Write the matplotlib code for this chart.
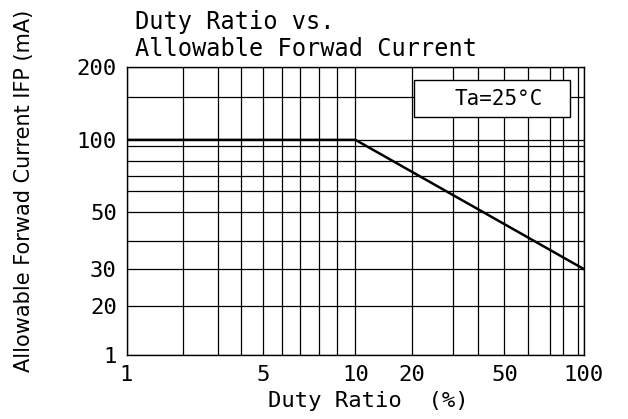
import matplotlib
matplotlib.use("Agg")
import matplotlib.pyplot as plt
import numpy as np
from matplotlib.patches import Rectangle

# --- data: derating curve ---
duty_ratio = [1, 10, 100]          # %
forward_current = [100, 100, 30]   # mA

x_ticks = [1, 5, 10, 20, 50, 100]
x_tick_labels = ["1", "5", "10", "20", "50", "100"]
y_ticks = [1, 20, 30, 50, 100, 200]
y_tick_labels = ["1", "20", "30", "50", "100", "200"]

x_grid = [2, 3, 4, 5, 6, 7, 8, 9, 10, 20, 30, 40, 50, 60, 70, 80, 90]
y_grid = [20, 30, 40, 50, 60, 70, 80, 90, 100, 150]

# The printed graph paper is not a true log grid, so the scale is
# calibrated on its rulings (fraction of the axis length).
x_rule_vals = [1, 2, 3, 4, 5, 6, 7, 8, 9, 10, 20, 30, 40, 50, 60, 70, 80, 90, 100]
x_rule_frac = [0, 0.124, 0.200, 0.250, 0.299, 0.340, 0.380, 0.421, 0.461, 0.501,
               0.625, 0.714, 0.770, 0.827, 0.878, 0.927, 0.956, 0.987, 1]
y_rule_vals = [1, 20, 30, 40, 50, 60, 70, 80, 90, 100, 150, 200]
y_rule_frac = [0, 0.170, 0.299, 0.396, 0.497, 0.569, 0.622, 0.674, 0.726, 0.747,
               0.896, 1]


def paper_scale(vals, frac):
    vals = np.asarray(vals, float)
    frac = np.asarray(frac, float)

    def fwd(v):
        return np.interp(v, vals, frac)

    def inv(f):
        return np.interp(f, frac, vals)

    return fwd, inv


plt.rcParams['font.family'] = ['DejaVu Sans Mono', 'DejaVu Sans']

fig = plt.figure(figsize=(6.28, 4.19), dpi=100)
ax = fig.add_axes([126.5 / 628, 1 - 355 / 419, 457 / 628, 288 / 419])

ax.set_xscale('function', functions=paper_scale(x_rule_vals, x_rule_frac))
ax.set_yscale('function', functions=paper_scale(y_rule_vals, y_rule_frac))
ax.set_xlim(1, 100)
ax.set_ylim(1, 200)

ax.set_xticks(x_ticks, x_tick_labels)
ax.set_yticks(y_ticks, y_tick_labels)
ax.set_xticks(x_grid, minor=True)
ax.set_yticks(y_grid, minor=True)
ax.tick_params(which='both', length=0)
ax.tick_params(axis='x', pad=7, labelsize=16)
ax.tick_params(axis='y', pad=7, labelsize=16)
ax.grid(True, which='both', color='black', linewidth=0.9)
for s in ax.spines.values():
    s.set_linewidth(1.0)
    s.set_color('black')

ax.plot(duty_ratio, forward_current, color='black', linewidth=1.8, zorder=3)

# condition box
ax.add_patch(Rectangle((0.629, 0.826), 0.341, 0.129, transform=ax.transAxes,
                       facecolor='white', edgecolor='black', linewidth=1.0, zorder=4))
ax.text(0.815, 0.89, "Ta=25°C", transform=ax.transAxes, ha='center', va='center',
        fontsize=15, zorder=5)

fig.text(135 / 628, 1 - 10 / 419, "Duty Ratio vs.\nAllowable Forwad Current",
         ha='left', va='top', fontsize=17, linespacing=1.15)
fig.text(368 / 628, 1 - 401 / 419, "Duty Ratio  (%)", ha='center', va='center',
         fontsize=16)
fig.text(24 / 628, 1 - 372 / 419, "Allowable Forwad Current IFP (mA)",
         rotation=90, ha='center', va='bottom', fontsize=15, family='DejaVu Sans')

fig.savefig("out.png", dpi=100)
